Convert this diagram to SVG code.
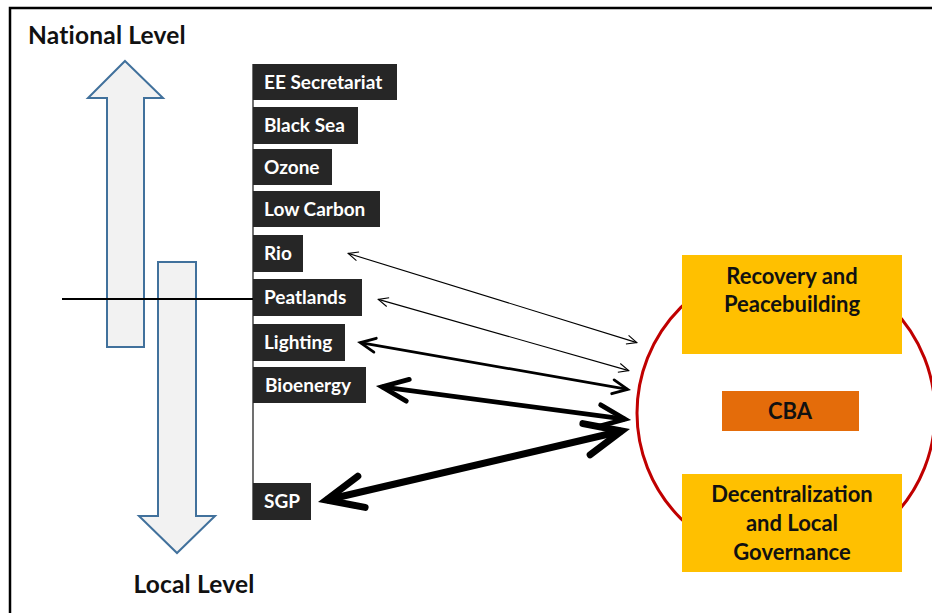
<svg xmlns="http://www.w3.org/2000/svg" width="932" height="613" viewBox="0 0 932 613">
  <style>
    .lvl { font-family: Lato, "Open Sans", "Liberation Sans", sans-serif; font-weight: 700; font-size: 24.5px; letter-spacing: 0.2px; fill: #111; }
    .tag rect { fill: #262626; }
    .tag text { font-family: Lato, "Open Sans", "Liberation Sans", sans-serif; font-weight: 700; font-size: 19px; fill: #fff; }
    .big { fill: #f2f2f2; stroke: #41719c; stroke-width: 2; }
    .gold { fill: #ffc000; }
    .orange { fill: #e46c0a; }
    .lbl { font-family: Lato, "Open Sans", "Liberation Sans", sans-serif; font-weight: 700; font-size: 22px; fill: #111; text-anchor: middle; }
    .link { stroke: #000; fill: none; }
  </style>
  <defs>
    <marker id="hThin" markerUnits="userSpaceOnUse" viewBox="-20 -15 30 30" markerWidth="30" markerHeight="30" refX="0" refY="0" orient="auto-start-reverse">
      <path d="M-10,-4.5 L0,0 L-10,4.5" fill="none" stroke="#000" stroke-width="1.1"/>
    </marker>
    <marker id="hMed" markerUnits="userSpaceOnUse" viewBox="-25 -15 35 30" markerWidth="35" markerHeight="30" refX="0" refY="0" orient="auto-start-reverse">
      <path d="M-15,-7 L0,0 L-15,7" fill="none" stroke="#000" stroke-width="2.8" stroke-linecap="round"/>
    </marker>
    <marker id="hBio" markerUnits="userSpaceOnUse" viewBox="-35 -20 50 40" markerWidth="50" markerHeight="40" refX="0" refY="0" orient="auto-start-reverse">
      <path d="M-26,-11 L0,0 L-26,11" fill="none" stroke="#000" stroke-width="4.8" stroke-linecap="round"/>
    </marker>
    <marker id="hSgp" markerUnits="userSpaceOnUse" viewBox="-45 -25 60 50" markerWidth="60" markerHeight="50" refX="0" refY="0" orient="auto-start-reverse">
      <path d="M-36,-16 L0,0 L-36,16" fill="none" stroke="#000" stroke-width="7" stroke-linecap="round"/>
    </marker>
  </defs>

  <!-- outer frame -->
  <rect x="10" y="8" width="940" height="620" fill="none" stroke="#000" stroke-width="2.5"/>

  <!-- level labels and block arrows -->
  <g id="national-level">
    <text class="lvl" x="28" y="44">National Level</text>
    <path class="big" d="M125,61 L163,98 L144,98 L144,347 L107,347 L107,98 L88,98 Z"/>
  </g>
  <g id="local-level">
    <path class="big" d="M158,262 L196,262 L196,516 L215,516 L177,553 L139,516 L158,516 Z"/>
    <text class="lvl" x="194" y="593" text-anchor="middle">Local Level</text>
  </g>

  <!-- spine and divider -->
  <g id="spine">
    <line x1="253" y1="64" x2="253" y2="520" stroke="#404040" stroke-width="1.5"/>
    <line x1="62" y1="299" x2="253" y2="299" stroke="#000" stroke-width="2"/>
  </g>

  <!-- project tags -->
  <g id="ee-secretariat" class="tag"><rect x="253" y="64" width="144" height="36"/><text x="264" y="89">EE Secretariat</text></g>
  <g id="black-sea" class="tag"><rect x="253" y="107" width="105" height="37"/><text x="264" y="132">Black Sea</text></g>
  <g id="ozone" class="tag"><rect x="253" y="149" width="79" height="36"/><text x="264" y="174">Ozone</text></g>
  <g id="low-carbon" class="tag"><rect x="253" y="191" width="127" height="36"/><text x="264" y="216">Low Carbon</text></g>
  <g id="rio" class="tag"><rect x="253" y="235" width="50" height="37"/><text x="264" y="260">Rio</text></g>
  <g id="peatlands" class="tag"><rect x="253" y="279" width="109" height="37"/><text x="264" y="304">Peatlands</text></g>
  <g id="lighting" class="tag"><rect x="253" y="324" width="92" height="37"/><text x="264" y="349">Lighting</text></g>
  <g id="bioenergy" class="tag"><rect x="253" y="367" width="113" height="36"/><text x="265" y="392">Bioenergy</text></g>
  <g id="sgp" class="tag"><rect x="253" y="483" width="58" height="37"/><text x="264" y="508">SGP</text></g>

  <!-- practice circle -->
  <g id="practice-ring">
    <circle cx="786" cy="413" r="149" fill="none" stroke="#c00000" stroke-width="3"/>
  </g>
  <g id="recovery">
    <rect class="gold" x="682" y="255" width="220" height="99"/>
    <text class="lbl" x="792" y="284">Recovery and</text>
    <text class="lbl" x="792" y="312">Peacebuilding</text>
  </g>
  <g id="cba">
    <rect class="orange" x="722" y="391" width="137" height="40"/>
    <text class="lbl" x="790" y="419">CBA</text>
  </g>
  <g id="decentralization">
    <rect class="gold" x="682" y="474" width="220" height="98"/>
    <text class="lbl" x="792" y="502">Decentralization</text>
    <text class="lbl" x="792" y="531">and Local</text>
    <text class="lbl" x="792" y="560">Governance</text>
  </g>

  <!-- two-way links -->
  <g id="connectors">
    <line class="link" x1="348.2" y1="253.4" x2="636.8" y2="342.6" stroke-width="1.1" marker-start="url(#hThin)" marker-end="url(#hThin)"/>
    <line class="link" x1="378.3" y1="299.4" x2="628.7" y2="370.6" stroke-width="1.1" marker-start="url(#hThin)" marker-end="url(#hThin)"/>
    <line class="link" x1="360.3" y1="342.6" x2="627.7" y2="389.4" stroke-width="2.8" marker-start="url(#hMed)" marker-end="url(#hMed)"/>
    <line class="link" x1="382" y1="386.8" x2="625" y2="419.2" stroke-width="4.8" marker-start="url(#hBio)" marker-end="url(#hBio)"/>
    <line class="link" x1="326.4" y1="500" x2="621.6" y2="431" stroke-width="7" marker-start="url(#hSgp)" marker-end="url(#hSgp)"/>
  </g>
</svg>
